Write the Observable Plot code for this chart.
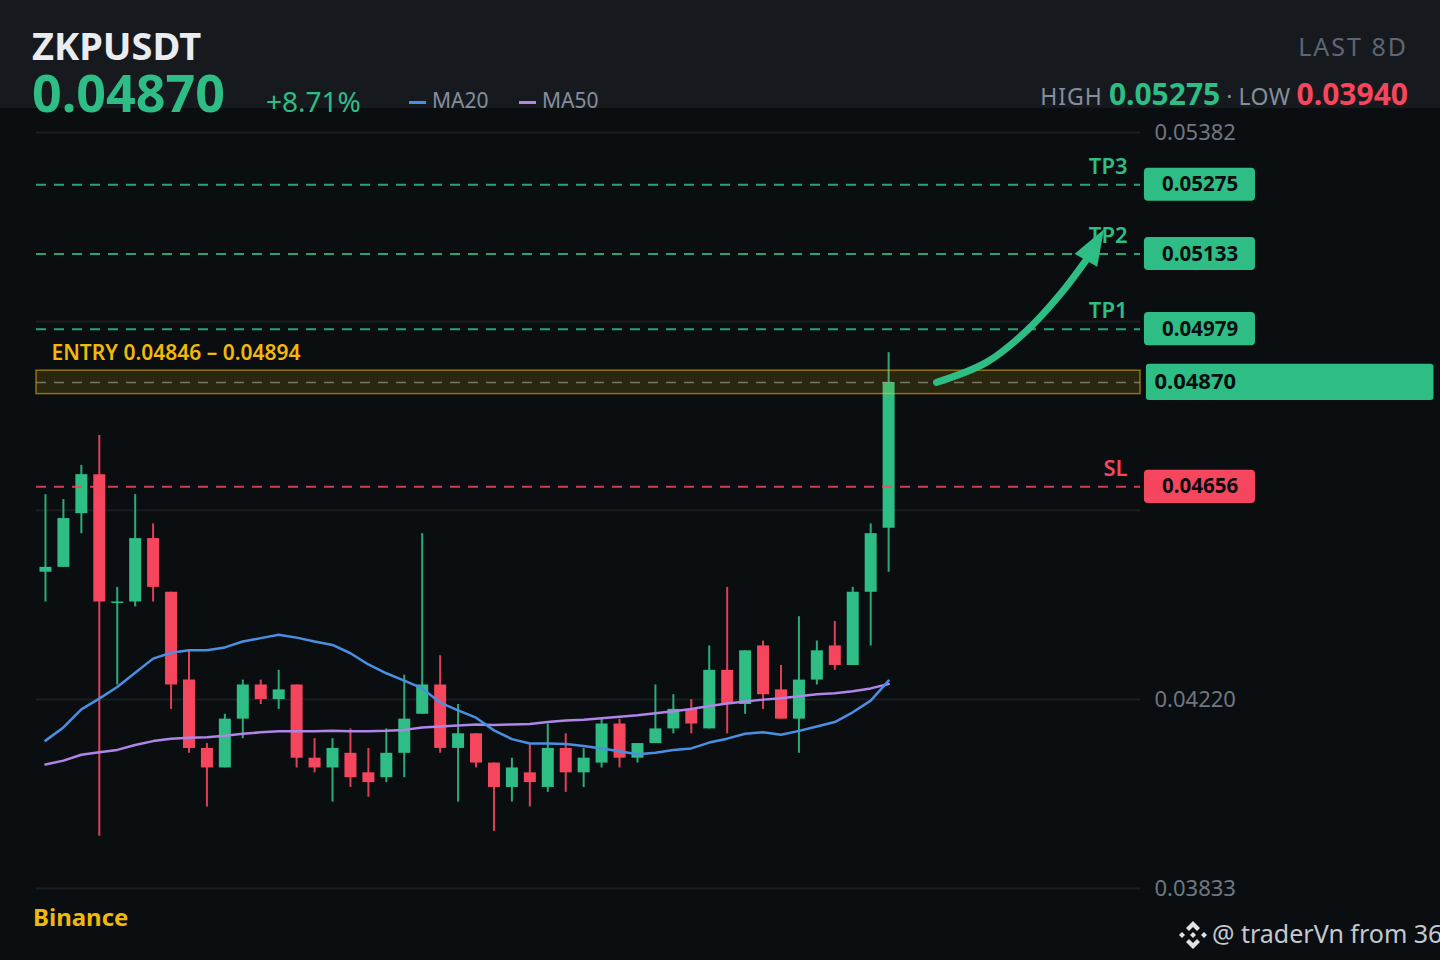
<!DOCTYPE html>
<html>
<head>
<meta charset="utf-8">
<script src="https://cdn.jsdelivr.net/npm/d3@7"></script>
<script src="https://cdn.jsdelivr.net/npm/@observablehq/plot@0.6"></script>
<style>
  html, body { margin: 0; padding: 0; background: #0b0e11; width: 1440px; height: 960px; overflow: hidden; font-family: "Noto Sans", sans-serif; }
  #band { position: absolute; left: 0; top: 0; width: 1440px; height: 108px; background: #161a1f; }
  #chart { position: absolute; left: 0; top: 0; }
  .t { position: absolute; white-space: nowrap; line-height: 1; }
  .sw { position: absolute; height: 3px; width: 17px; top: 101px; }
</style>
</head>
<body>
<div id="band"></div>
<div id="chart"></div>
<div class="t" style="left:32px;top:26px;font-size:38px;font-weight:700;color:#eaecef">ZKPUSDT</div>
<div class="t" style="left:32px;top:66px;font-size:52px;font-weight:700;color:#2ebd85">0.04870</div>
<div class="t" style="left:266px;top:87px;font-size:28px;color:#2ebd85">+8.71%</div>
<div class="sw" style="left:409px;background:#4a90e2"></div>
<div class="t" style="left:432px;top:90px;font-size:21px;color:#848e9c">MA20</div>
<div class="sw" style="left:519px;background:#b085e8"></div>
<div class="t" style="left:542px;top:90px;font-size:21px;color:#848e9c">MA50</div>
<div class="t" style="right:32px;top:34px;font-size:25px;letter-spacing:2px;color:#5e6673">LAST 8D</div>
<div class="t" style="right:32px;top:79px;font-size:23px;color:#848e9c;display:flex;align-items:baseline">
  <span style="letter-spacing:1px">HIGH</span>&nbsp;<span style="font-size:30px;font-weight:700;color:#2ebd85">0.05275</span>&nbsp;<span style="font-size:23px">·</span>&nbsp;<span style="letter-spacing:.5px">LOW</span>&nbsp;<span style="font-size:30px;font-weight:700;color:#f6465d">0.03940</span>
</div>
<div class="t" style="left:33px;top:905px;font-size:24px;font-weight:700;color:#f0b90b">Binance</div>
<svg style="position:absolute;left:1178px;top:920px" width="30" height="30" viewBox="-15 -15 30 30">
  <g fill="#dfe3e8">
    <path d="M0,-14 L7,-7 L4,-4 L0,-8 L-4,-4 L-7,-7 Z"/>
    <path d="M0,14 L7,7 L4,4 L0,8 L-4,4 L-7,7 Z"/>
    <path d="M-14,0 L-11,-3 L-8,0 L-11,3 Z"/>
    <path d="M14,0 L11,-3 L8,0 L11,3 Z"/>
    <path d="M0,-3 L3,0 L0,3 L-3,0 Z"/>
  </g>
</svg>
<div class="t" style="left:1212px;top:921px;font-size:25px;color:#c4c9cf">@ traderVn from 36</div>
<script>
const open  = [0.04481,0.04491,0.04601,0.04681,0.04417,0.04420,0.04550,0.04440,0.04260,0.04120,0.04080,0.04180,0.04250,0.04220,0.04250,0.04100,0.04080,0.04110,0.04070,0.04060,0.04110,0.04190,0.04250,0.04120,0.04150,0.04090,0.04040,0.04070,0.04040,0.04120,0.04070,0.04090,0.04170,0.04100,0.04130,0.04160,0.04200,0.04160,0.04280,0.04210,0.04330,0.04240,0.04180,0.04260,0.04330,0.04290,0.04440,0.04571];
const close = [0.04491,0.04591,0.04681,0.04420,0.04420,0.04550,0.04450,0.04250,0.04120,0.04080,0.04180,0.04250,0.04220,0.04240,0.04100,0.04080,0.04120,0.04060,0.04050,0.04110,0.04180,0.04250,0.04120,0.04150,0.04090,0.04040,0.04080,0.04050,0.04120,0.04070,0.04100,0.04170,0.04100,0.04130,0.04160,0.04200,0.04170,0.04280,0.04210,0.04320,0.04230,0.04180,0.04260,0.04320,0.04290,0.04440,0.04560,0.04870];
const high  = [0.04640,0.04630,0.04700,0.04761,0.04450,0.04640,0.04580,0.04440,0.04320,0.04130,0.04190,0.04260,0.04260,0.04280,0.04250,0.04140,0.04140,0.04160,0.04120,0.04160,0.04270,0.04560,0.04310,0.04210,0.04150,0.04090,0.04100,0.04130,0.04170,0.04150,0.04120,0.04180,0.04180,0.04130,0.04250,0.04230,0.04220,0.04330,0.04450,0.04320,0.04340,0.04290,0.04390,0.04340,0.04380,0.04450,0.04580,0.04931];
const low   = [0.04420,0.04491,0.04560,0.03940,0.04250,0.04410,0.04420,0.04200,0.04110,0.04000,0.04080,0.04140,0.04210,0.04200,0.04080,0.04070,0.04010,0.04040,0.04020,0.04050,0.04060,0.04190,0.04110,0.04010,0.04080,0.03950,0.04010,0.04000,0.04030,0.04030,0.04040,0.04080,0.04080,0.04090,0.04130,0.04150,0.04150,0.04160,0.04150,0.04190,0.04200,0.04180,0.04110,0.04250,0.04280,0.04290,0.04330,0.04481];
const ma20  = [0.04136,0.04163,0.04200,0.04222,0.04246,0.04275,0.04304,0.04316,0.04321,0.04321,0.04327,0.04339,0.04346,0.04353,0.04347,0.04339,0.04332,0.04315,0.04292,0.04274,0.04259,0.04243,0.04214,0.04198,0.04183,0.04157,0.04139,0.04130,0.04130,0.04129,0.04125,0.04120,0.04114,0.04108,0.04111,0.04117,0.04120,0.04132,0.04140,0.04150,0.04153,0.04148,0.04156,0.04165,0.04174,0.04194,0.04218,0.04259];
const ma50  = [0.04087,0.04095,0.04107,0.04112,0.04117,0.04127,0.04135,0.04140,0.04142,0.04143,0.04146,0.04150,0.04153,0.04155,0.04155,0.04155,0.04156,0.04155,0.04155,0.04156,0.04158,0.04163,0.04165,0.04167,0.04169,0.04168,0.04169,0.04170,0.04174,0.04177,0.04179,0.04182,0.04185,0.04188,0.04192,0.04196,0.04201,0.04207,0.04212,0.04216,0.04220,0.04223,0.04227,0.04231,0.04233,0.04237,0.04243,0.04252];

const gridTicks = [0.05382,0.04995,0.04608,0.04220,0.03833];
const axisTicks = [0.05382,0.04220,0.03833];
const levelNames  = ["TP3","TP2","TP1","SL"];
const levelValues = [0.05275,0.05133,0.04979,0.04656];
const entryLow = 0.04846, entryHigh = 0.04894, lastPrice = 0.04870;
const arrowX = [49.67,52.45,54.7,56.6,58.0];
const arrowY = [0.04870,0.04911,0.04976,0.05052,0.05120];

const GREEN = "#2ebd85", RED = "#f6465d", BLUE = "#4a90e2", PURPLE = "#b085e8", GOLD = "#f0b90b", INK = "#0b0e11";
const fmt = d => d.toFixed(5);
const idx = d3.range(open.length);
const upColor = i => close[i] >= open[i] ? GREEN : RED;
const levelColor = (_, i) => levelNames[i] === "SL" ? RED : GREEN;
const levels = levelNames.map((name, i) => ({name, value: levelValues[i], color: levelColor(null, i)}));

const arrowHead = {
  draw(context, l) {
    context.moveTo(-13, 0);
    context.lineTo(0, -l);
    context.lineTo(13, 0);
    context.closePath();
  }
};

const chart = Plot.plot({
  width: 1440,
  height: 960,
  marginLeft: 36,
  marginRight: 300,
  marginTop: 132,
  marginBottom: 72,
  style: {background: "transparent", fontFamily: "'Noto Sans', sans-serif", overflow: "visible"},
  x: {domain: [-0.5, 61.04], axis: null},
  y: {domain: [0.03833, 0.05382], axis: null},
  marks: [
    Plot.gridY(gridTicks, {stroke: "#1a1e22", strokeOpacity: 1, strokeWidth: 2}),
    Plot.axisY(axisTicks, {anchor: "right", tickSize: 0, tickPadding: 14, fontSize: 22, fill: "#6f7782", tickFormat: fmt, label: null}),
    // wicks and bodies
    Plot.ruleX(idx, {x: i => i, y1: i => low[i], y2: i => high[i], stroke: upColor, strokeWidth: 2, strokeOpacity: 0.9}),
    Plot.ruleX(idx, {x: i => i, y1: i => open[i], y2: i => close[i], stroke: upColor, strokeWidth: 12}),
    // moving averages
    Plot.line(ma50, {x: (_, i) => i, y: d => d, stroke: PURPLE, strokeWidth: 2.5}),
    Plot.line(ma20, {x: (_, i) => i, y: d => d, stroke: BLUE, strokeWidth: 2.5}),
    // entry zone
    Plot.rect([0], {x1: -0.5, x2: 61.04, y1: entryLow, y2: entryHigh, fill: GOLD, fillOpacity: 0.14, stroke: GOLD, strokeOpacity: 0.55, strokeWidth: 1.5}),
    Plot.ruleY([lastPrice], {stroke: "#9a9a8a", strokeOpacity: 0.7, strokeWidth: 1.5, strokeDasharray: "10,8"}),
    // target and stop levels
    Plot.ruleY(levels, {y: "value", stroke: "color", strokeOpacity: 0.85, strokeWidth: 2, strokeDasharray: "10,8"}),
    Plot.text(levels, {x: 61.04, y: "value", text: "name", fill: "color", dx: -13, dy: -18, textAnchor: "end", fontSize: 22, fontWeight: 600}),
    Plot.text(["ENTRY 0.04846 – 0.04894"], {x: -0.5, y: entryHigh, text: d => d, dx: 15, dy: -17, textAnchor: "start", fill: GOLD, fontSize: 21, fontWeight: 600}),
    // price tags
    Plot.rect(levels, {x1: 61.26, x2: 67.45, y1: d => d.value - 0.00034, y2: d => d.value + 0.00034, fill: "color", rx: 4}),
    Plot.text(levels, {x: 64.36, y: "value", text: d => fmt(d.value), fill: INK, fontSize: 20.5, fontWeight: 700}),
    Plot.rect([lastPrice], {x1: 61.37, x2: 77.4, y1: d => d - 0.00037, y2: d => d + 0.00037, fill: GREEN, rx: 3}),
    Plot.text([lastPrice], {x: 61.37, y: d => d, text: fmt, dx: 8, textAnchor: "start", fill: INK, fontSize: 22, fontWeight: 700}),
    // target arrow
    Plot.line(arrowX, {x: d => d, y: (_, i) => arrowY[i], curve: "catmull-rom", stroke: GREEN, strokeWidth: 7, strokeLinecap: "round"}),
    Plot.vector([0], {x: 58.0, y: 0.05120, length: 36, rotate: 30, shape: arrowHead, anchor: "start", fill: GREEN, stroke: GREEN, strokeWidth: 0})
  ]
});
document.getElementById("chart").append(chart);
</script>
</body>
</html>
